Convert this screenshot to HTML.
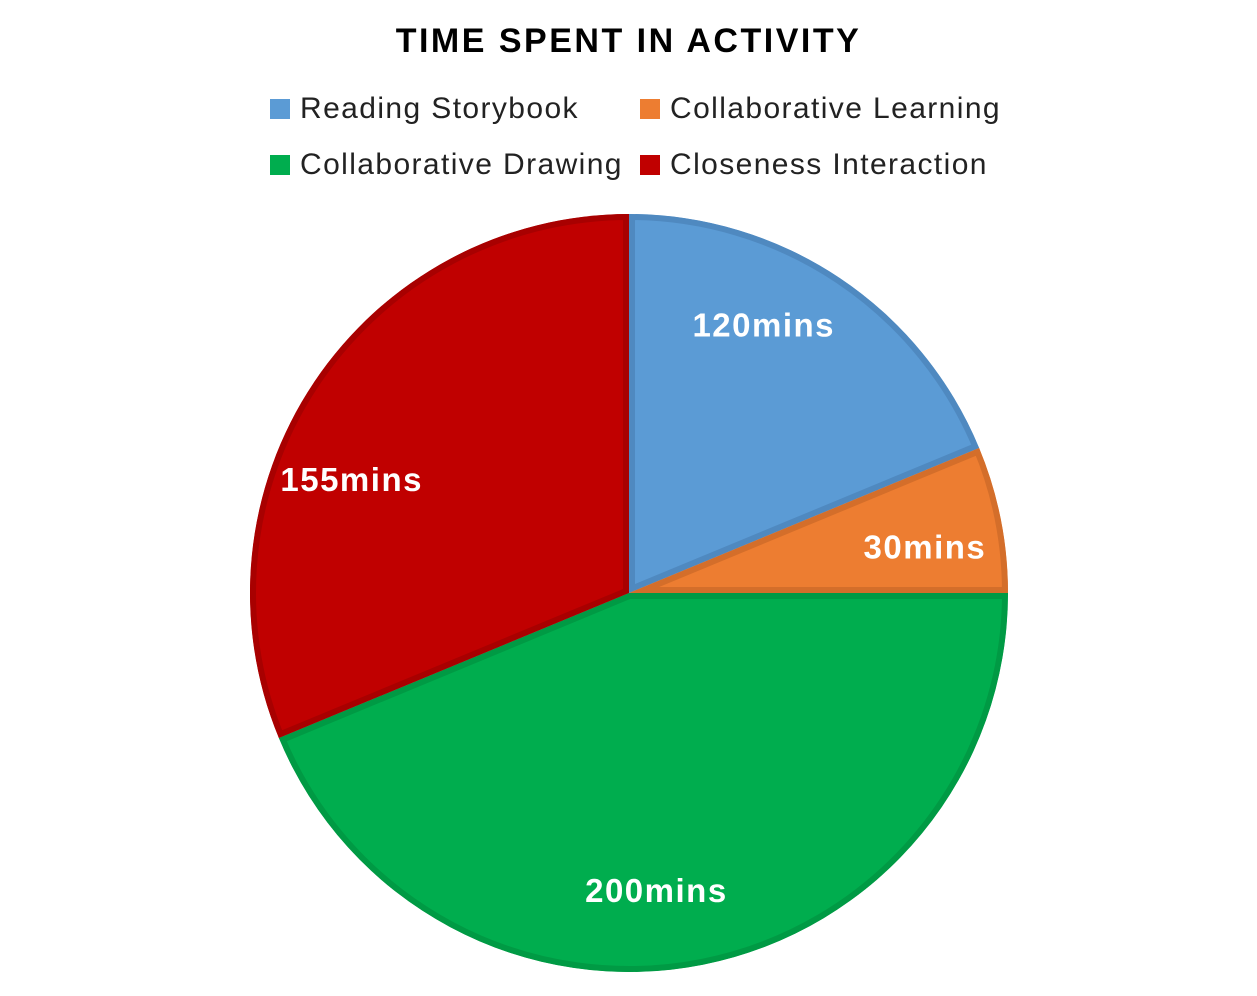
<!DOCTYPE html>
<html><head><meta charset="utf-8"><style>
body{margin:0;background:#fff;width:1257px;height:996px;overflow:hidden;font-family:"Liberation Sans","DejaVu Sans",sans-serif}
.t{position:absolute;left:0;width:1257px;top:22px;text-align:center;font-weight:bold;font-size:34px;letter-spacing:2.5px;color:#000}
.lg{position:absolute;font-size:30px;letter-spacing:1.4px;color:#222;display:flex;align-items:center}
.sq{width:20px;height:20px;margin-right:10px;display:inline-block}
</style></head><body>
<div class="t">TIME SPENT IN ACTIVITY</div>
<div class="lg" style="left:270px;top:92px"><span class="sq" style="background:#5b9bd5"></span>Reading Storybook</div>
<div class="lg" style="left:640px;top:92px"><span class="sq" style="background:#ed7d31"></span>Collaborative Learning</div>
<div class="lg" style="left:270px;top:148px"><span class="sq" style="background:#00ad4e"></span>Collaborative Drawing</div>
<div class="lg" style="left:640px;top:148px"><span class="sq" style="background:#c00000"></span>Closeness Interaction</div>
<svg id="pie" width="1257" height="996" style="position:absolute;left:0;top:0"></svg>
<script>
const categories=["Reading Storybook","Collaborative Learning","Collaborative Drawing","Closeness Interaction"];
const values=[3,1,7,5];
const labels=["120mins","30mins","200mins","155mins"];
const fills=["#5b9bd5","#ed7d31","#00ad4e","#c00000"];
const strokes=["#4f89c0","#d46e2a","#009a44","#a80000"];
const labelAngleShift=[-7,2.5,6,-11.6];
const cx=629,cy=593,R=379;
const svg=document.getElementById('pie');const NS="http://www.w3.org/2000/svg";
const total=values.reduce((a,b)=>a+b,0);
function pt(a,r){return [cx+r*Math.sin(a),cy-r*Math.cos(a)];}
let a0=0;
values.forEach((v,i)=>{
 const a1=a0+v/total*2*Math.PI;
 const p0=pt(a0,R),p1=pt(a1,R);
 const large=(a1-a0)>Math.PI?1:0;
 const d=`M${cx},${cy}L${p0[0]},${p0[1]}A${R},${R} 0 ${large} 1 ${p1[0]},${p1[1]}Z`;
 const cp=document.createElementNS(NS,'clipPath');cp.id='c'+i;
 const cpp=document.createElementNS(NS,'path');cpp.setAttribute('d',d);cp.appendChild(cpp);svg.appendChild(cp);
 const p=document.createElementNS(NS,'path');
 p.setAttribute('d',d);p.setAttribute('fill',fills[i]);p.setAttribute('stroke',strokes[i]);
 p.setAttribute('stroke-width','12');p.setAttribute('clip-path','url(#c'+i+')');
 
 
 svg.appendChild(p);
 const m=(a0+a1)/2+labelAngleShift[i]*Math.PI/180;const lp=pt(m,R*0.79);
 const t=document.createElementNS(NS,'text');
 t.setAttribute('x',lp[0]);t.setAttribute('y',lp[1]+11);t.setAttribute('text-anchor','middle');
 t.setAttribute('fill','#fff');t.setAttribute('font-weight','bold');t.setAttribute('font-size','33');
 t.setAttribute('letter-spacing','1.5');
 t.setAttribute('font-family','Liberation Sans, DejaVu Sans, sans-serif');
 t.textContent=labels[i];
 
 
 svg.appendChild(t);
 a0=a1;
});
</script>
</body></html>
